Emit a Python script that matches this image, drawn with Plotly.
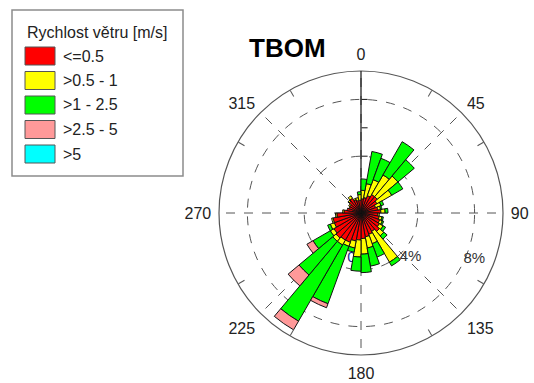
import plotly.graph_objects as go

# ---- data -------------------------------------------------------------
directions = [5, 15, 25, 35, 45, 55, 65, 75, 85, 95, 105, 115, 125, 135, 145, 155, 165, 175,
              185, 195, 205, 215, 225, 235, 245, 255, 265, 275, 285, 295, 305, 315, 325, 335, 345, 355]

speed_classes = ["<=0.5", ">0.5 - 1", ">1 - 2.5", ">2.5 - 5", ">5"]
class_colors = ["#ff0000", "#ffff00", "#00ff00", "#ff9999", "#00ffff"]

freq_le_05 = [1.0, 1.1, 1.3, 1.5, 1.5, 1.3, 1.1, 1.2, 1.4, 1.2, 1.3, 1.4, 1.5, 1.7, 1.5, 1.6, 1.7, 1.8,
              1.9, 2.0, 2.2, 2.2, 2.3, 2.2, 2.0, 2.0, 1.7, 1.2, 1.0, 0.9, 0.9, 1.1, 1.2, 1.0, 0.9, 0.9]
freq_05_1 = [0.6, 1.0, 1.2, 1.6, 1.9, 1.2, 0.4, 0.2, 0.3, 0.1, 0.2, 0.2, 0.3, 0.4, 2.5, 0.7, 0.8, 1.1,
             1.2, 0.5, 0.3, 0.4, 0.3, 0.3, 0.3, 0.1, 0.1, 0.1, 0.0, 0.0, 0.1, 0.1, 0.2, 0.1, 0.2, 0.4]
freq_1_25 = [0.8, 2.3, 1.6, 2.7, 1.5, 0.9, 0.2, 0.1, 0.2, 0.0, 0.1, 0.1, 0.2, 0.3, 0.3, 1.0, 1.3, 1.3,
             1.0, 0.3, 4.3, 6.2, 3.1, 1.4, 0.2, 0.0, 0.0, 0.0, 0.0, 0.0, 0.0, 0.0, 0.0, 0.0, 0.0, 0.2]
freq_25_5 = [0.0, 0.0, 0.0, 0.0, 0.0, 0.0, 0.0, 0.0, 0.0, 0.0, 0.0, 0.0, 0.0, 0.0, 0.0, 0.0, 0.0, 0.0,
             0.0, 0.0, 0.3, 0.7, 1.0, 0.5, 0.0, 0.0, 0.0, 0.0, 0.0, 0.0, 0.0, 0.0, 0.0, 0.0, 0.0, 0.0]
freq_gt_5 = [0.0] * 36

series = [freq_le_05, freq_05_1, freq_1_25, freq_25_5, freq_gt_5]

angle_ticks = [0, 45, 90, 135, 180, 225, 270, 315]
angle_labels = ["0", "45", "90", "135", "180", "225", "270", "315"]
circle_ticks = [30, 60, 120, 150, 210, 240, 300, 330]
radial_grid = [4, 8]
radial_ticks = [2, 4, 6, 8]
radial_labels = ["4%", "8%"]
r_max = 10

title_text = "TBOM"
legend_title = "Rychlost větru [m/s]"

# ---- figure -----------------------------------------------------------
FONT = "Liberation Sans, Arial, sans-serif"
W, H = 534, 383
dom_x = [219 / W, 503 / W]
dom_y = [(H - 355) / H, (H - 71) / H]

fig = go.Figure()

# bottom subplot: the "0" label that sits behind the bars
fig.add_trace(go.Scatterpolar(r=[3.25], theta=[192], mode="text", text=["0"],
                              textfont=dict(family=FONT, size=15, color="#1a2a8a"),
                              subplot="polar", showlegend=False, hoverinfo="skip"))

# stacked bars (top subplot)
for name, vals, col in zip(speed_classes, series, class_colors):
    fig.add_trace(go.Barpolar(r=vals, theta=directions, width=[10] * len(directions),
                              name=name, marker=dict(color=col, line=dict(color="#111111", width=1)),
                              subplot="polar2", showlegend=False))

# percentage labels
fig.add_trace(go.Scatterpolar(r=[4.7, 8.6], theta=[132, 112], mode="text", text=radial_labels,
                              textfont=dict(family=FONT, size=15, color="#333333"),
                              subplot="polar2", showlegend=False, hoverinfo="skip"))

common_ang = dict(direction="clockwise", rotation=90)
fig.update_layout(
    width=W, height=H, margin=dict(l=0, r=0, t=0, b=0),
    paper_bgcolor="white", plot_bgcolor="white",
    font=dict(family=FONT, color="#222222"),
    polar=dict(
        domain=dict(x=dom_x, y=dom_y), bgcolor="white",
        angularaxis=dict(**common_ang, tickmode="array", tickvals=angle_ticks, ticktext=angle_labels,
                         showgrid=True, gridcolor="#555555", griddash="dash", gridwidth=1,
                         showline=True, linecolor="#555555", linewidth=1.2,
                         ticks="outside", ticklen=4, tickcolor="rgba(0,0,0,0)",
                         tickfont=dict(family=FONT, size=16, color="#222222"),
                         layer="below traces"),
        radialaxis=dict(range=[0, r_max], tickmode="array", tickvals=radial_grid,
                        showgrid=True, gridcolor="#555555", griddash="dash", gridwidth=1,
                        showline=False, showticklabels=False, ticks="", layer="below traces"),
    ),
    polar2=dict(
        domain=dict(x=dom_x, y=dom_y), bgcolor="rgba(0,0,0,0)",
        angularaxis=dict(**common_ang, tickmode="array", tickvals=circle_ticks,
                         showgrid=False, showline=False, showticklabels=False,
                         ticks="inside", ticklen=7, tickcolor="#555555", tickwidth=1.2),
        radialaxis=dict(range=[0, r_max], angle=90, tickangle=0, tickmode="array", tickvals=radial_ticks,
                        showgrid=False, showline=True, linecolor="#111111", linewidth=1.2,
                        ticks="outside", ticklen=6, tickcolor="#111111", tickwidth=1,
                        showticklabels=False, layer="below traces"),
    ),
)

# title
fig.add_annotation(x=287 / W, y=1 - 48 / H, xref="paper", yref="paper", text="<b>%s</b>" % title_text,
                   showarrow=False, font=dict(family=FONT, size=26, color="#000000"),
                   xanchor="center", yanchor="middle")

# custom legend box
fig.add_shape(type="rect", xref="paper", yref="paper", x0=12 / W, x1=183 / W,
              y0=1 - 176 / H, y1=1 - 10 / H, line=dict(color="#8c8c8c", width=1.5),
              fillcolor="white")
fig.add_annotation(x=25 / W, y=1 - 33 / H, xref="paper", yref="paper", text=legend_title,
                   showarrow=False, xanchor="left", yanchor="middle",
                   font=dict(family=FONT, size=16, color="#222222"))
row_y0, row_dy = 56, 24.5
for i, (name, col) in enumerate(zip(speed_classes, class_colors)):
    yc = row_y0 + i * row_dy
    fig.add_shape(type="rect", xref="paper", yref="paper", x0=25 / W, x1=55 / W,
                  y0=1 - (yc + 9) / H, y1=1 - (yc - 9) / H,
                  line=dict(color="#555555", width=1), fillcolor=col)
    fig.add_annotation(x=61 / W, y=1 - yc / H, xref="paper", yref="paper", text=name,
                       showarrow=False, xanchor="left", yanchor="middle",
                       font=dict(family=FONT, size=16, color="#222222"))

fig.write_html("out.html", config={"displayModeBar": False},
               post_script="document.body.style.margin='0';document.body.style.overflow='hidden';")
